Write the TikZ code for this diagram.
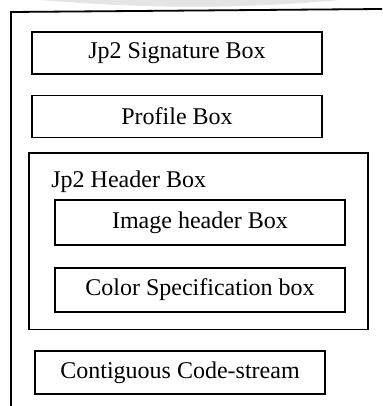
\documentclass[tikz,border=0pt]{standalone}
\usepackage{fontspec}
\setmainfont{Liberation Serif}
\usetikzlibrary{
	positioning,
	fit,
	calc,
}

\begin{document}
\begin{tikzpicture}[
		x=1pt, y=-1pt,
		every node/.style={font=\fontsize{24}{28}\selectfont},
		node distance = 20pt and 3pt,
		box/.style = {rectangle, draw, line width=1.6pt,
			minimum width=290pt, minimum height=42pt,
			inner sep=0pt},
		frame/.style = {line width=1.8pt},
	]
	\useasboundingbox (0,0) rectangle (382,406);
	% scan shadow
	\fill[gray!20] (40,0) .. controls (150,9) and (240,9) .. (340,0) -- cycle;
	% outer frame
	\coordinate (TL) at (11,12);
	\coordinate (TR) at (382,9);
	\coordinate (BL) at (11,406);
	\draw[frame] (TR) -- (TL) -- (BL);
	\node[box] (sig) at (177,53) {Jp2 Signature Box};
	\node[box, below=of sig] (prof) {Profile Box};
	\node[box, minimum height=45pt, below=61pt of prof, xshift=23pt] (img) {Image header Box};
	\node[box, minimum height=44pt, below=21pt of img] (col) {Color Specification box};
	\node[anchor=south west, inner sep=0pt] (hdrlbl)
		at ([xshift=-3pt,yshift=7pt]img.north west) {Jp2 Header Box};
	\node[draw, line width=1.6pt, inner xsep=22pt, inner ysep=17pt,
		fit=(hdrlbl)(img)(col)] (hdr) {};
	\coordinate (c) at (hdr.south -| sig);
	\node[box, minimum height=43pt, below=20pt of c, xshift=3pt] (code) {Contiguous Code-stream};
\end{tikzpicture}
\end{document}
